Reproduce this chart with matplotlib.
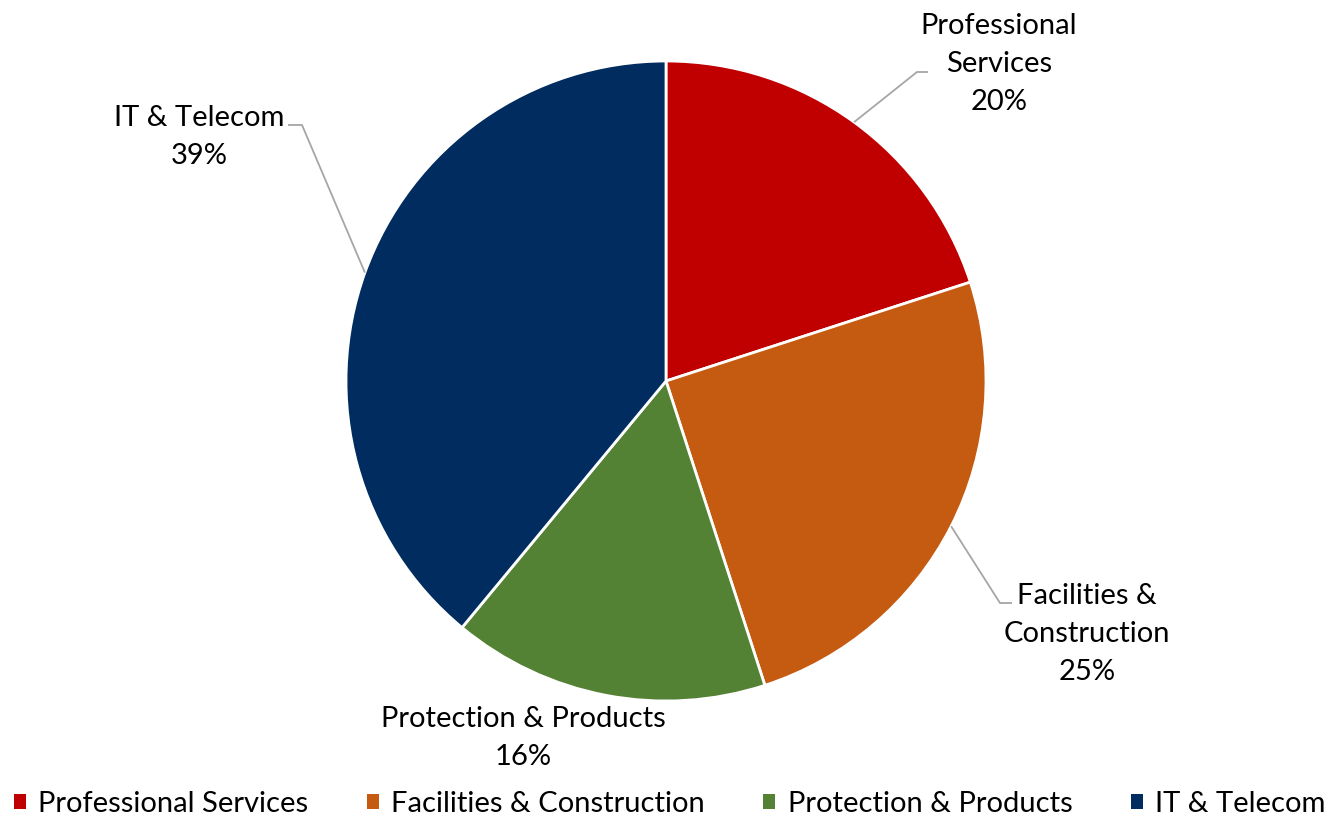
import numpy as np
import matplotlib.pyplot as plt
from matplotlib.patches import Patch

categories = ['Professional Services', 'Facilities & Construction',
              'Protection & Products', 'IT & Telecom']
shares = [20, 25, 16, 39]
label_text = ['Professional\nServices', 'Facilities &\nConstruction',
              'Protection & Products', 'IT & Telecom']
colors = ['#C00000', '#C55A11', '#548235', '#002C5F']

# layout in pixels (y measured from top)
W, H = 1334, 818
CX, CY, R = 666, 381, 320
label_xy = [(999, 64), (1087, 634), (523, 738), (199, 137)]
leader_elbow = [(917, 72), (1000, 603), None, (302, 125)]
leader_end = [(928, 72), (1012, 603), None, (288, 125)]

plt.rcParams['font.family'] = ['Lato', 'DejaVu Sans']
FS = 21

fig = plt.figure(figsize=(W / 100, H / 100), dpi=100)
ax = fig.add_axes([0, 0, 1, 1])

wedges, _ = ax.pie(shares, colors=colors, startangle=90, counterclock=False,
                   center=(CX, H - CY), radius=R, frame=True,
                   wedgeprops=dict(edgecolor='white', linewidth=2))
ax.set_xlim(0, W)
ax.set_ylim(0, H)
ax.set_aspect('equal')
ax.axis('off')

for i, w in enumerate(wedges):
    mid = np.deg2rad((w.theta1 + w.theta2) / 2)
    ex, ey = CX + R * np.cos(mid), (H - CY) + R * np.sin(mid)
    if leader_elbow[i] is not None:
        bx, by = leader_elbow[i]
        fx, fy = leader_end[i]
        ax.plot([ex, bx, fx], [ey, H - by, H - fy], color='#A6A6A6', lw=1.3,
                solid_capstyle='butt')
    tx, ty = label_xy[i]
    ax.text(tx, H - ty, f'{label_text[i]}\n{shares[i]}%', ha='center',
            va='center', fontsize=FS, color='black', linespacing=1.56)

handles = [Patch(facecolor=c, edgecolor='none') for c in colors]
fig.legend(handles, categories, loc='center', ncol=4, frameon=False,
           fontsize=FS, bbox_to_anchor=(0.502, 14 / H), borderpad=0,
           borderaxespad=0, handlelength=0.42, handleheight=0.42,
           handletextpad=0.42, columnspacing=2.0)

fig.savefig('out.png', dpi=100)
